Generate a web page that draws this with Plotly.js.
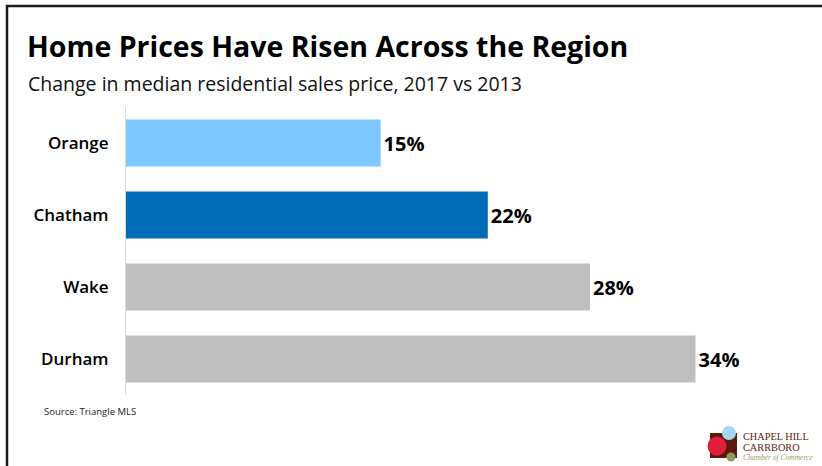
<!DOCTYPE html>
<html>
<head>
<meta charset="utf-8">
<script src="https://cdn.plot.ly/plotly-3.0.1.min.js"></script>
<style>
  html, body { margin: 0; padding: 0; background: #fff; }
  #chart { width: 822px; height: 466px; }
</style>
</head>
<body>
<div id="chart"></div>
<script>
// ---- data ----
const counties = ["Orange", "Chatham", "Wake", "Durham"];
const priceChangePct = [15.2, 21.6, 27.7, 34.0];
const barColors = ["#7fc8ff", "#006bb6", "#bfbfbf", "#bfbfbf"];
const titleText = "Home Prices Have Risen Across the Region";
const subtitleText = "Change in median residential sales price, 2017 vs 2013";
const sourceText = "Source: Triangle MLS";

// ---- layout geometry ----
const W = 822, H = 466;
const M = { l: 126, r: 26, t: 107, b: 71 };
const PW = W - M.l - M.r, PH = H - M.t - M.b;
const px = x => (x - M.l) / PW;
const py = y => (H - M.b - y) / PH;

const trace = {
  type: "bar",
  orientation: "h",
  y: counties,
  x: priceChangePct,
  marker: { color: barColors, line: { width: 0 } },
  text: priceChangePct.map(v => Math.round(v) + "%"),
  textposition: "outside",
  textfont: { family: "Open Sans", size: 20, weight: 700, color: "#000" },
  cliponaxis: false,
  hoverinfo: "skip"
};

function circle(cx, cy, r, color) {
  return { type: "circle", xref: "paper", yref: "paper",
    x0: px(cx - r), x1: px(cx + r), y0: py(cy + r), y1: py(cy - r),
    fillcolor: color, line: { width: 0 }, layer: "above" };
}

const shapes = [
  // frame: top and left border
  { type: "line", xref: "paper", yref: "paper", x0: px(6), x1: px(830), y0: py(6), y1: py(6),
    line: { color: "#1a1a1a", width: 2.5 } },
  { type: "line", xref: "paper", yref: "paper", x0: px(7), x1: px(7), y0: py(5), y1: py(470),
    line: { color: "#1a1a1a", width: 2.5 } },
  // logo
  { type: "rect", xref: "paper", yref: "paper", x0: px(710), x1: px(737), y0: py(458), y1: py(433),
    fillcolor: "#5c1a0e", line: { width: 0 }, layer: "above" },
  circle(717, 446, 9.5, "#e0203a"),
  circle(729, 433, 7, "#a5d6f2"),
  circle(731, 457, 4.5, "#8d9b5c")
];

const logoFont = { family: "Liberation Serif", size: 10.3, color: "#5c1a0e" };
const annotations = [
  { xref: "paper", yref: "paper", x: px(26), y: py(83), xanchor: "left", yanchor: "middle",
    text: subtitleText, showarrow: false,
    font: { family: "Open Sans", size: 19.5, color: "#111" } },
  { xref: "paper", yref: "paper", x: px(42), y: py(411), xanchor: "left", yanchor: "middle",
    text: sourceText, showarrow: false,
    font: { family: "Open Sans", size: 9.5, color: "#222" } },
  { xref: "paper", yref: "paper", x: px(741), y: py(436), xanchor: "left", yanchor: "middle",
    text: "CHAPEL HILL", showarrow: false, font: logoFont },
  { xref: "paper", yref: "paper", x: px(741), y: py(447), xanchor: "left", yanchor: "middle",
    text: "CARRBORO", showarrow: false, font: logoFont },
  { xref: "paper", yref: "paper", x: px(741), y: py(457.5), xanchor: "left", yanchor: "middle",
    text: "<i>Chamber of Commerce</i>", showarrow: false,
    font: { family: "Liberation Serif", size: 7.5, color: "#a4986a" } }
];

const layout = {
  width: W, height: H,
  margin: M,
  paper_bgcolor: "#fff",
  plot_bgcolor: "#fff",
  showlegend: false,
  bargap: 0.35,
  title: {
    text: "<b>" + titleText + "</b>",
    xref: "container", yref: "container",
    x: 27 / W, xanchor: "left",
    y: 1 - 47 / H, yanchor: "middle",
    font: { family: "Open Sans", size: 28.5, color: "#000" }
  },
  xaxis: {
    range: [0, 40],
    showgrid: false, zeroline: false, showline: false,
    showticklabels: false, ticks: "", fixedrange: true
  },
  yaxis: {
    type: "category",
    categoryorder: "array", categoryarray: counties,
    range: [3.5, -0.5],
    showgrid: false, zeroline: false,
    showline: true, linecolor: "#d9d9d9", linewidth: 1,
    ticks: "", ticklabelstandoff: 13,
    tickfont: { family: "Open Sans", size: 17, weight: 600, color: "#000" },
    fixedrange: true
  },
  shapes: shapes,
  annotations: annotations
};

Plotly.newPlot("chart", [trace], layout, { displayModeBar: false, staticPlot: true });
</script>
</body>
</html>
